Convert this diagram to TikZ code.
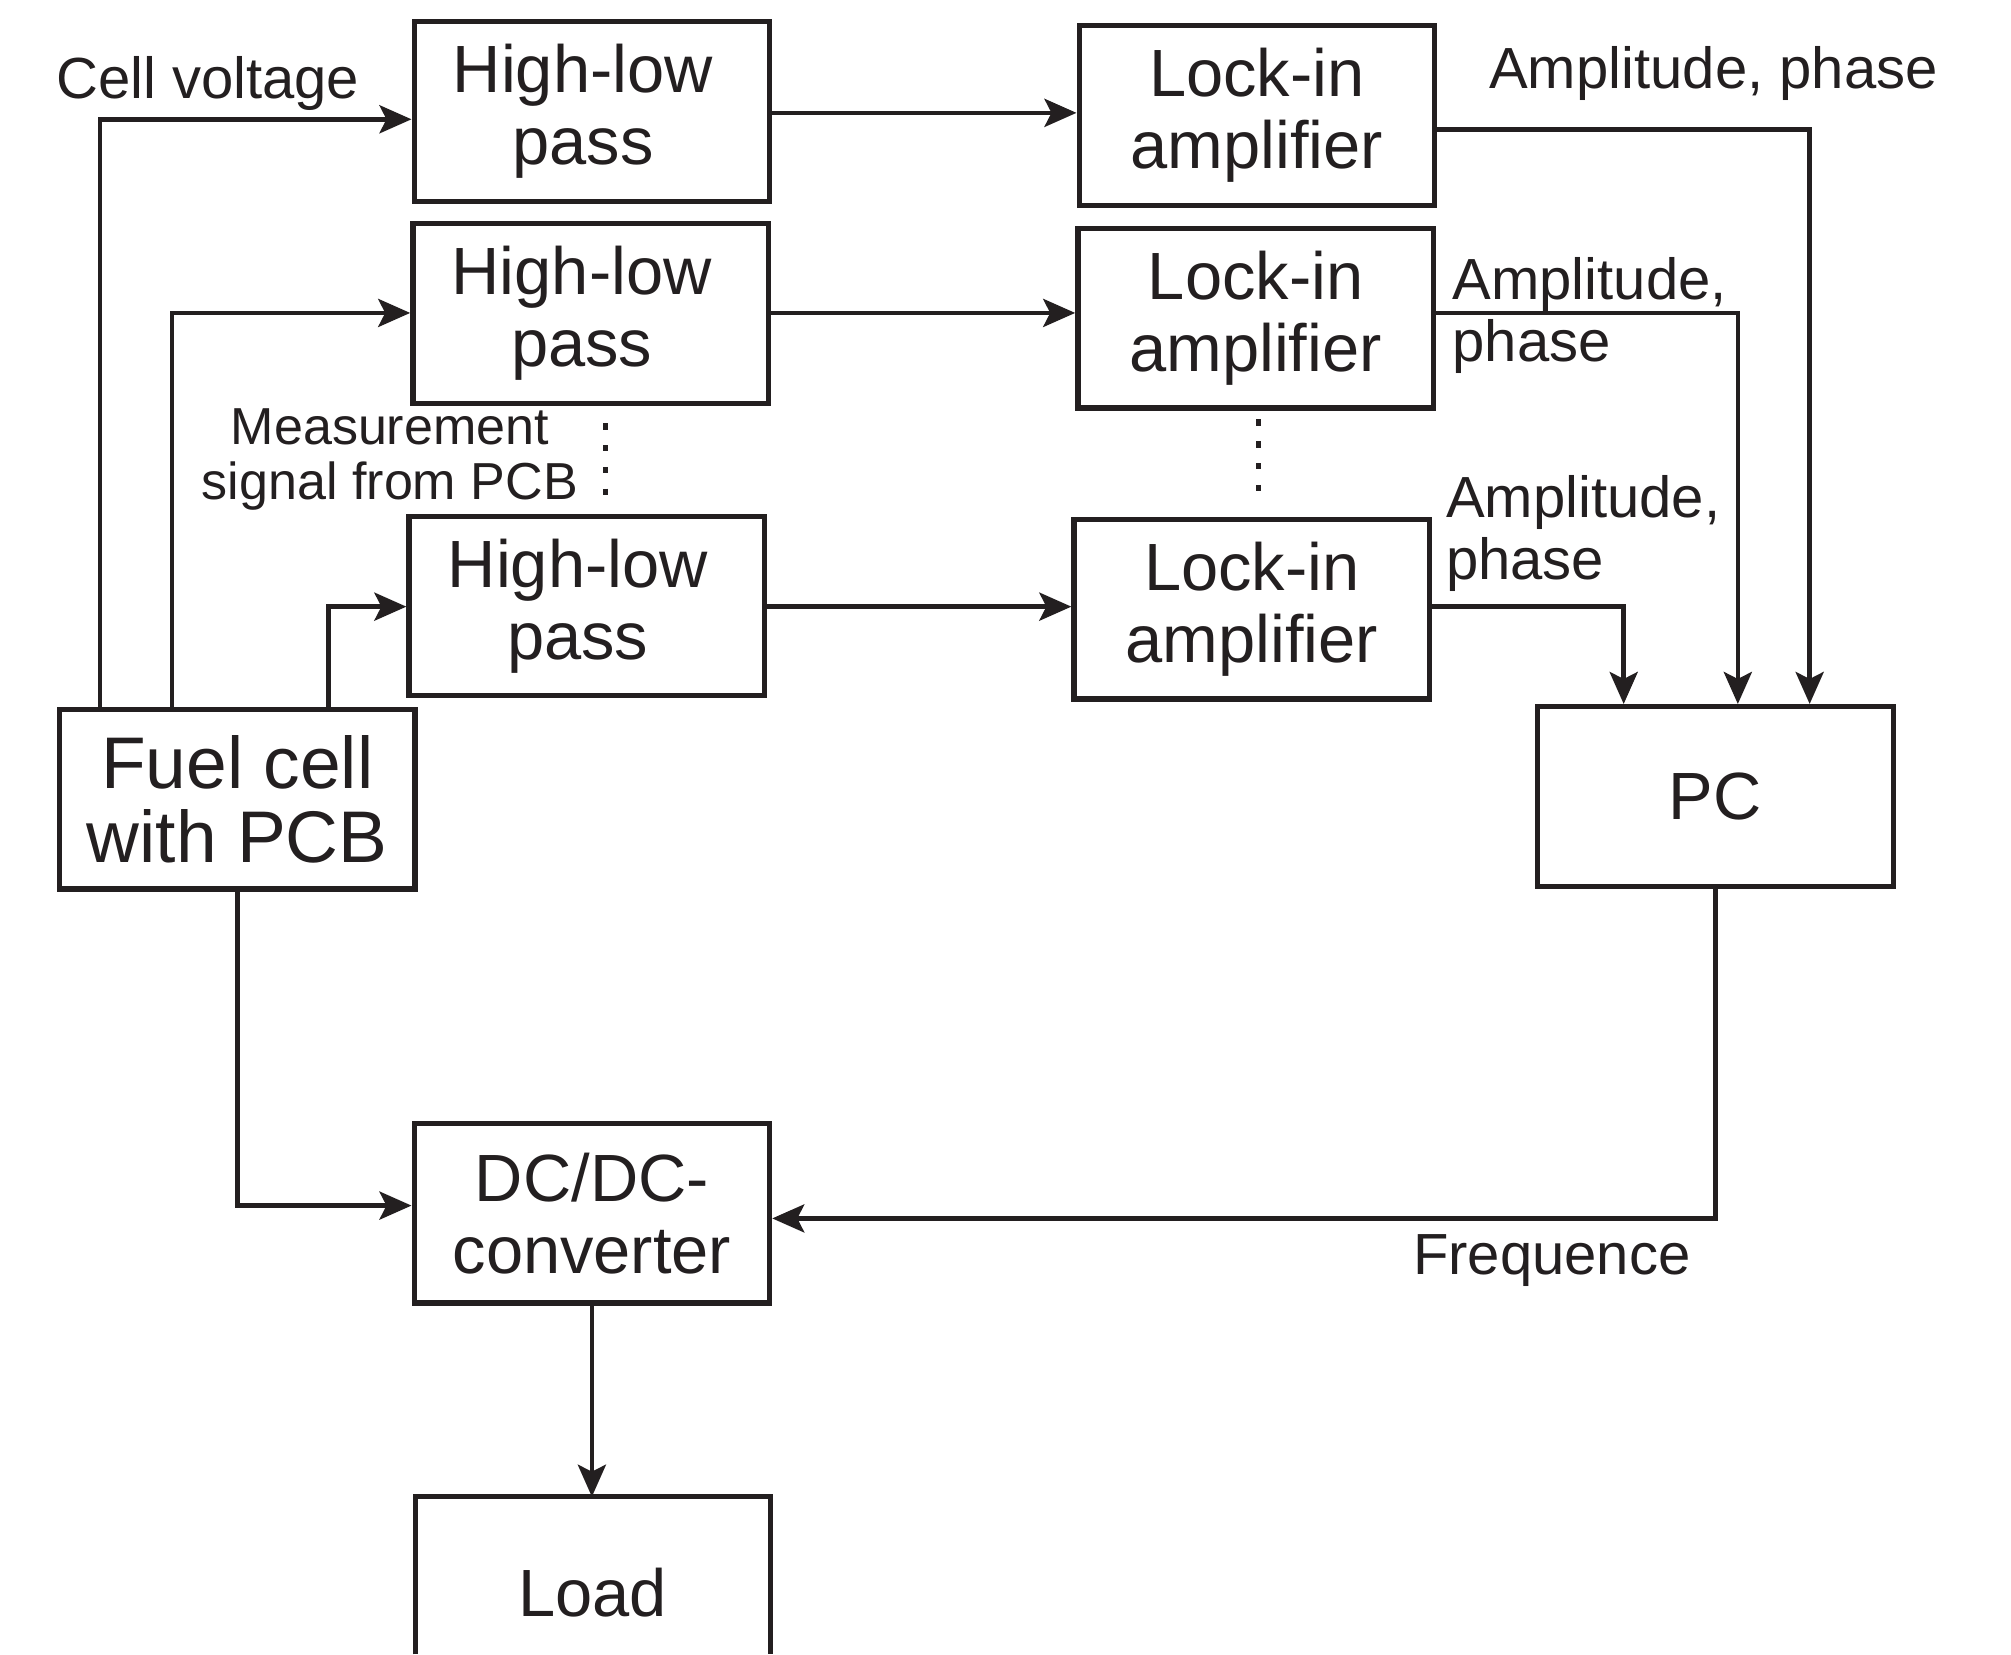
\documentclass[tikz,border=0pt]{standalone}
\usepackage{fontspec}
\setmainfont{Liberation Sans}
\usetikzlibrary{arrows.meta,calc}
\definecolor{ink}{HTML}{231F20}
\newcommand{\hlp}{High-low\hspace*{0.18cm}\\pass\hspace*{0.18cm}}
\begin{document}
\begin{tikzpicture}[x=0.012825cm,y=-0.012825cm, every node/.style={text=ink},
  box/.style={draw=ink, line width=1.5pt, minimum width=3.5525cm, minimum height=1.7955cm, inner sep=0pt, align=center, font=\fontsize{19}{20.5}\selectfont},
  fcbox/.style={box, font=\fontsize{20.8}{21}\selectfont},
  boxtext/.style={inner sep=0pt, align=center, font=\fontsize{19}{20.5}\selectfont},
  lbl/.style={inner sep=0pt, font=\fontsize{16.5}{17.5}\selectfont},
  mlbl/.style={inner sep=0pt, align=center, font=\fontsize{14.8}{15.7}\selectfont},
  arr/.style={draw=ink, line width=1.3pt, -{Stealth[length=0.32cm,width=0.28cm,inset=0.07cm]}},
  dotline/.style={draw=ink, line width=1.4pt, dash pattern=on 0.064cm off 0.154cm}]
\useasboundingbox (0,0) rectangle (1568,1290);

% boxes
\node[box] (HL1) at (461.5,87) {\hlp};
\node[box] (HL2) at (460.5,244.5) {\hlp};
\node[box] (HL3) at (457.5,472.5) {\hlp};
\node[box] (LI1) at (980,90) {Lock-in\\amplifier};
\node[box] (LI2) at (979,248) {Lock-in\\amplifier};
\node[box] (LI3) at (976,475) {Lock-in\\amplifier};
\node[fcbox] (FC) at (185,623) {Fuel cell\\with PCB};
\node[box] (PC) at (1337.5,621) {PC};
\node[box] (DC) at (461.5,946) {DC/DC-\\converter};

% load (cut off at the bottom)
\draw[draw=ink, line width=1.5pt] (324,1290) -- (324,1167) -- (601,1167) -- (601,1290);
\coordinate (loadtop) at (461.5,1167);
\node[boxtext] (Load) at (462,1242) {Load};

% labels
\node[lbl] (lcv) at (162,65) {Cell voltage};
\node[lbl] (la1) at (1336,57) {Amplitude, phase};
\node[lbl, align=left, anchor=west] (la2) at (1132,246) {Amplitude,\\phase};
\node[lbl, align=left, anchor=west] (la3) at (1127,416) {Amplitude,\\phase};
\node[mlbl] (lms) at (304,358) {Measurement\\signal from PCB};
\node[lbl] (lfr) at (1210,983) {Frequence};

% dots
\draw[dotline] (472,330) -- (472,386);
\draw[dotline] (981,327) -- (981,383);

% connectors
\draw[arr] (FC.north -| 78,0) |- (HL1.west |- 0,93);
\draw[arr] (FC.north -| 134,0) |- (HL2.west |- 0,244);
\draw[arr] (FC.north -| 256,0) |- (HL3.west |- 0,473);
\draw[arr] (HL1.east |- 0,88) -- (LI1.west |- 0,88);
\draw[arr] (HL2.east |- 0,244) -- (LI2.west |- 0,244);
\draw[arr] (HL3.east |- 0,473) -- (LI3.west |- 0,473);
\draw[arr] (LI1.east |- 0,101) -| (PC.north -| 1411,0);
\draw[arr] (LI2.east |- 0,244) -| (PC.north -| 1355,0);
\draw[arr] (LI3.east |- 0,473) -| (PC.north -| 1266,0);
\draw[arr] (PC.south) |- (DC.east |- 0,950);
\draw[arr] (FC.south) |- (DC.west |- 0,940);
\draw[arr] (DC.south) -- (loadtop);
\end{tikzpicture}
\end{document}
